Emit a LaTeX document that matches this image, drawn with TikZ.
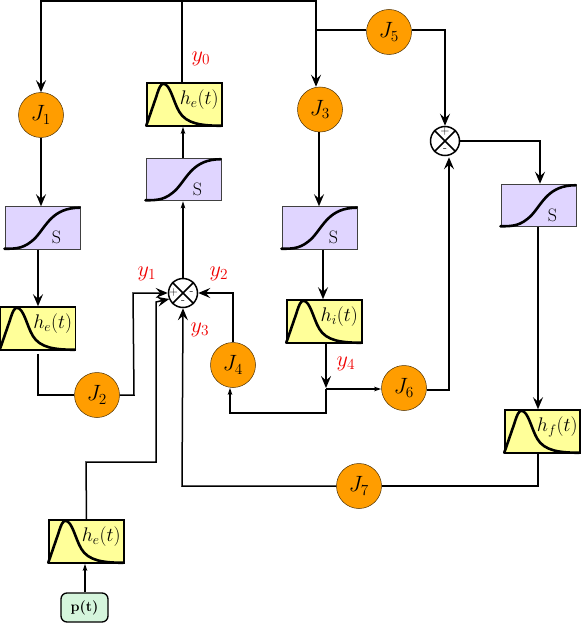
\documentclass[tikz,border=0pt]{standalone}
\usetikzlibrary{arrows.meta,calc}
\definecolor{jorange}{HTML}{FF9D00}
\definecolor{spurple}{HTML}{E0D5FF}
\definecolor{hyellow}{HTML}{FFFF99}
\definecolor{pgreen}{HTML}{D5F5DC}
\definecolor{ylabel}{HTML}{F00000}
\tikzset{
  base/.style={line width=1.5pt},
  big/.style={base,-{Stealth[length=12pt,width=10pt,inset=4.5pt]}},
  small/.style={base,-{Stealth[length=7pt,width=4.5pt,inset=1.5pt]}},
  jnode/.style={circle,draw=black!70!jorange,line width=.5pt,fill=jorange,minimum size=45pt,inner sep=0pt},
  jtext/.style={font=\fontsize{17.28}{20}\selectfont,inner sep=0pt,scale=1.28},
  sbox/.style={draw=black!75,line width=1pt,fill=spurple,minimum width=75pt,minimum height=42.5pt,inner sep=0pt},
  hbox/.style={draw=black,line width=1.5pt,fill=hyellow,minimum width=75pt,minimum height=43pt,inner sep=0pt},
  sumnode/.style={circle,draw=black,line width=1.5pt,fill=white,minimum size=29pt,inner sep=0pt},
  sign/.style={font=\fontsize{12}{12}\selectfont,inner sep=0pt},
  ylab/.style={text=ylabel,font=\fontsize{17.28}{20}\selectfont,inner sep=0pt,scale=1.28},
  hlab/.style={font=\fontsize{17.28}{20}\selectfont,inner sep=0pt,scale=1.14},
  slab/.style={font=\fontsize{18}{20}\selectfont,inner sep=0pt},
  curve/.style={line width=2.6pt,line cap=round},
  ptbox/.style={draw=black,line width=1.3pt,fill=pgreen,rounded corners=6pt,minimum width=47pt,minimum height=29pt,inner sep=0pt,font=\fontsize{14.4}{16}\selectfont\bfseries}
}
\newcommand{\jn}[3]{\node[jnode] (#1) at #2 {};\node[jtext] at (#1) {$#3$};}
\newcommand{\sigcurve}[1]{\draw[curve,shift={(#1.south west)}] (0,-1) .. controls (12,-1) and (20,-1) .. (31,-12) .. controls (42,-24) and (48,-42) .. (75,-42);
  \node[slab] at ($(#1.south west)+(52,-12)$) {S};}
\newcommand{\hcurve}[2]{\draw[curve,shift={(#1.south west)}] (0,-1) -- (10,-30) .. controls (13,-40) and (15,-43) .. (17,-43) .. controls (24,-43) and (27,-25) .. (33,-15) .. controls (40,-3) and (55,-1) .. (75,-1);
  \node[hlab] at ($(#1.south west)+(53,-27)$) {$#2$};}
\begin{document}
\begin{tikzpicture}[x=1pt,y=-1pt]
\useasboundingbox (0,0) rectangle (581,623);
% nodes
\jn{J1}{(41,115)}{J_1}
\jn{J2}{(97,395)}{J_2}
\jn{J3}{(320,109.5)}{J_3}
\jn{J4}{(233,365)}{J_4}
\jn{J5}{(389,32)}{J_5}
\jn{J6}{(404,388)}{J_6}
\jn{J7}{(359,486)}{J_7}
\node[sbox] (S1) at (42.5,228) {};
\node[sbox] (S2) at (183.5,179.5) {};
\node[sbox] (S3) at (319.5,228) {};
\node[sbox] (S4) at (538.5,205.5) {};
\node[hbox] (H1) at (38,328.5) {};
\node[hbox] (H2) at (184.5,104.5) {};
\node[hbox] (H3) at (324.5,321.5) {};
\node[hbox] (H4) at (542.5,431.5) {};
\node[hbox] (H5) at (86.5,541.5) {};
\node[ptbox] (P) at (84.5,607.5) {p(t)};
\node[sumnode] (A) at (183,293) {};
\node[sumnode] (B) at (445,141) {};
% bends
\coordinate (topL) at (41,1);
\coordinate (topM) at (182,1);
\coordinate (topR) at (316,1);
\coordinate (j5t) at (317,30);
\coordinate (j5r) at (445,30);
\coordinate (br) at (540,141);
\coordinate (hfb) at (538,453);
\coordinate (hfc) at (538,486);
\coordinate (j7l) at (182,486);
\coordinate (j6r) at (449,390);
\coordinate (y4j) at (326,389);
\coordinate (y4b) at (326,413);
\coordinate (j4b) at (230,413);
\coordinate (j4r) at (233,293);
\coordinate (j2a) at (134,395);
\coordinate (j2b) at (133,293);
\coordinate (pa) at (86,462);
\coordinate (pb) at (156,462);
\coordinate (pc) at (156,302);
\coordinate (h1b) at (38,395);
\coordinate (xA) at (183,0);
\coordinate (xJ3) at (319,0);
\coordinate (xS3) at (323,0);
\coordinate (xS4) at (538,0);
\coordinate (xP) at (85,0);
% curves and labels
\sigcurve{S1}\sigcurve{S2}\sigcurve{S3}\sigcurve{S4}
\hcurve{H1}{h_e(t)}\hcurve{H2}{h_e(t)}\hcurve{H3}{h_i(t)}\hcurve{H4}{h_f(t)}\hcurve{H5}{h_e(t)}
\draw[line width=1.5pt] (A.45)--(A.225) (A.135)--(A.315) (B.45)--(B.225) (B.135)--(B.315);
\node[sign] (a1) at ($(A)+(-9.5,0)$) {+};
\node[sign] (a2) at ($(A)+(8.5,0)$) {-};
\node[sign] (a3) at ($(A)+(0,9.5)$) {-};
\node[sign] (b1) at ($(B)+(0,-9)$) {+};
\node[sign] (b2) at ($(B)+(0,9)$) {-};
\node[ylab] (y0) at (201,59) {$y_0$};
\node[ylab] (y1) at (147,274) {$y_1$};
\node[ylab] (y2) at (219,274) {$y_2$};
\node[ylab] (y3) at (200,330) {$y_3$};
\node[ylab] (y4) at (346,364) {$y_4$};
% connectors
\draw[base] (H2.north -| topM) -- (topM);
\draw[big] (topM) -- (topL) -- (J1.north);
\draw[big] (topM) -- (topR) -- (J3.north -| topR);
\draw[base] (j5t) -- (J5.west |- j5t);
\draw[big] (J5.east |- j5r) -- (j5r) -- (B.north);
\draw[big] (B.east) -- (br) -- (S4.north -| br);
\draw[big] (S4.south -| xS4) -- (H4.north -| xS4);
\draw[base] (hfb) -- (hfc) -- (J7.east |- hfc);
\draw[big] (J7.west |- j7l) -- (j7l) -- (A.south);
\draw[big] (J6.east |- j6r) -- (j6r) -- ($(B.south)+(4,1)$);
\draw[big] (H3.south -| y4j) -- ($(y4j)+(0,-1)$);
\draw[small] (y4j) -- (J6.west |- y4j);
\draw[small] (y4j) -- (y4b) -- (j4b) -- (J4.south -| j4b);
\draw[big] (J4.north) -- (j4r) -- (A.east);
\draw[big] (J2.east |- j2a) -- (j2a) -- (j2b) -- (A.west);
\draw[big] (H5.north) -- (pa) -- (pb) -- (pc) -- ($(A.west)+(1.5,6)$);
\draw[base] ($(H1.south)+(0,3)$) -- (h1b) -- (J2.west |- h1b);
\draw[big] (J1.south) -- (S1.north -| J1.south);
\draw[big] (S1.south -| H1.north) -- (H1.north);
\draw[small] (A.north) -- (S2.south -| A.north);
\draw[small] (S2.north -| xA) -- (H2.south -| xA);
\draw[big] (J3.south -| xJ3) -- (S3.north -| xJ3);
\draw[big] (S3.south -| xS3) -- (H3.north -| xS3);
\draw[small] (P.north -| xP) -- (H5.south -| xP);
\end{tikzpicture}
\end{document}
